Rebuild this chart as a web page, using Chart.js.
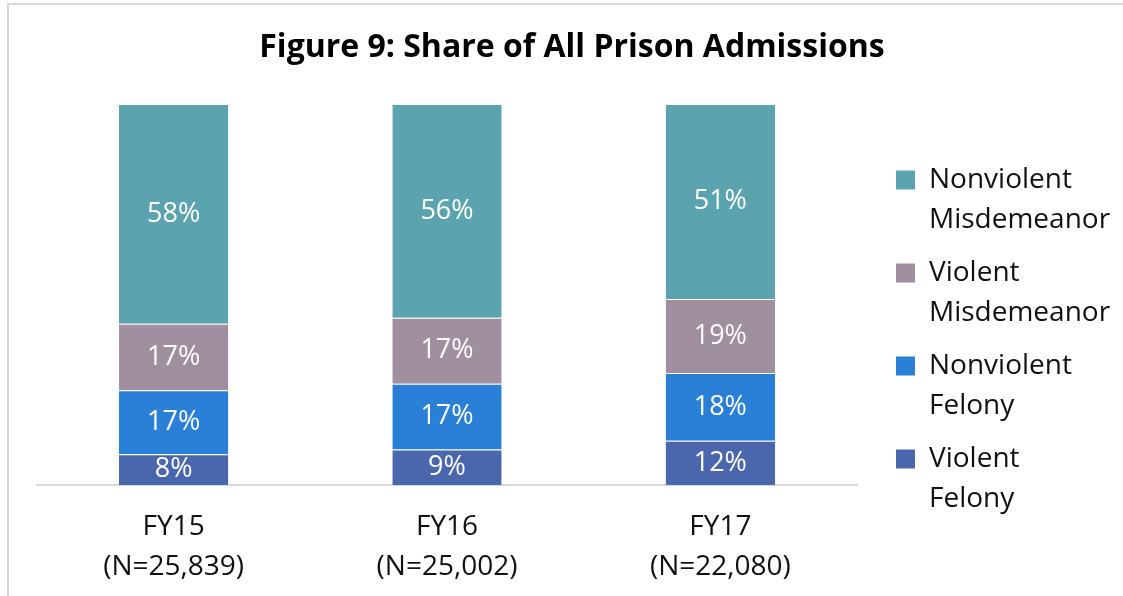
<!DOCTYPE html>
<html>
<head>
<meta charset="utf-8">
<script src="https://cdn.jsdelivr.net/npm/chart.js@4"></script>
<style>
  html, body { margin: 0; padding: 0; background: #fff; }
  #frame { position: absolute; left: 7px; top: 3px; width: 1130px; height: 600px;
           border-top: 2px solid #d9d9d9; border-left: 2px solid #d9d9d9; }
  #wrap { position: absolute; left: 0; top: 0; width: 1123px; height: 596px; }
</style>
</head>
<body>
<div id="frame"></div>
<div id="wrap"><canvas id="chart"></canvas></div>
<script>
// categories (two-line axis labels)
const years = [["FY15", "(N=25,839)"], ["FY16", "(N=25,002)"], ["FY17", "(N=22,080)"]];

// share of admissions, percent (bottom to top of each stack)
const violentFelony = [8.1, 9.3, 11.6];
const nonviolentFelony = [16.8, 17.3, 17.8];
const violentMisdemeanor = [17.4, 17.3, 19.4];
const nonviolentMisdemeanor = [57.7, 56.1, 51.2];

const FONT = "'Open Sans', sans-serif";

// white percent labels centred in each segment
const segmentLabels = {
  id: 'segmentLabels',
  afterDatasetsDraw(chart) {
    const ctx = chart.ctx;
    ctx.save();
    ctx.fillStyle = '#fff';
    ctx.font = '27px ' + FONT;
    ctx.textAlign = 'center';
    ctx.textBaseline = 'middle';
    chart.data.datasets.forEach((ds, i) => {
      chart.getDatasetMeta(i).data.forEach((bar, j) => {
        ctx.fillText(Math.round(ds.data[j]) + '%', bar.x, (bar.y + bar.base) / 2);
      });
    });
    ctx.restore();
  }
};

// nudge legend placement
const placeBoxes = {
  id: 'placeBoxes',
  afterInit(chart) {
    const lg = chart.legend;
    const origFit = lg.fit;
    lg.fit = function () {
      origFit.call(this);
      this.width = 250;
    };
  },
  afterLayout(chart) {
    chart.legend.left += 26;
    chart.legend.right += 40;
    chart.legend.top = 153;
  }
};

new Chart(document.getElementById('chart'), {
  type: 'bar',
  data: {
    labels: years,
    datasets: [
      { label: 'Violent Felony', data: violentFelony, backgroundColor: '#4a66ad' },
      { label: 'Nonviolent Felony', data: nonviolentFelony, backgroundColor: '#2a7fd7' },
      { label: 'Violent Misdemeanor', data: violentMisdemeanor, backgroundColor: '#a08f9f' },
      { label: 'Nonviolent Misdemeanor', data: nonviolentMisdemeanor, backgroundColor: '#5ba3ae' }
    ]
  },
  options: {
    responsive: true,
    maintainAspectRatio: false,
    animation: false,
    datasets: {
      bar: {
        barPercentage: 0.4,
        categoryPercentage: 1.0,
        borderColor: 'rgba(255,255,255,0.6)',
        borderWidth: { top: 1, bottom: 0, left: 0, right: 0 },
        borderSkipped: false
      }
    },
    layout: { padding: { left: 37, right: 16, top: 0, bottom: 6 } },
    scales: {
      x: {
        stacked: true,
        grid: { display: false, drawTicks: false },
        border: { display: true, color: '#d9d9d9', width: 2 },
        ticks: { color: '#111', padding: 22, font: { family: FONT, size: 28, lineHeight: '40px' } },
        afterFit(scale) { scale.height = 105; }
      },
      y: {
        stacked: true,
        display: false,
        min: 0,
        max: 100
      }
    },
    plugins: {
      title: {
        display: true,
        text: 'Figure 9: Share of All Prison Admissions',
        color: '#000',
        font: { family: FONT, size: 32, weight: 'bold', lineHeight: '36px' },
        padding: { top: 30, bottom: 38 }
      },
      legend: {
        position: 'right',
        align: 'start',
        reverse: true,
        labels: {
          color: '#111',
          boxWidth: 19,
          boxHeight: 19,
          padding: 13,
          font: { family: FONT, size: 28, lineHeight: '40px' },
          generateLabels(chart) {
            const items = Chart.defaults.plugins.legend.labels.generateLabels(chart);
            items.forEach(it => {
              it.text = it.text.split(' ');
              it.lineWidth = 0;
            });
            return items;
          }
        }
      },
      tooltip: { enabled: false }
    }
  },
  plugins: [segmentLabels, placeBoxes]
});
</script>
</body>
</html>
